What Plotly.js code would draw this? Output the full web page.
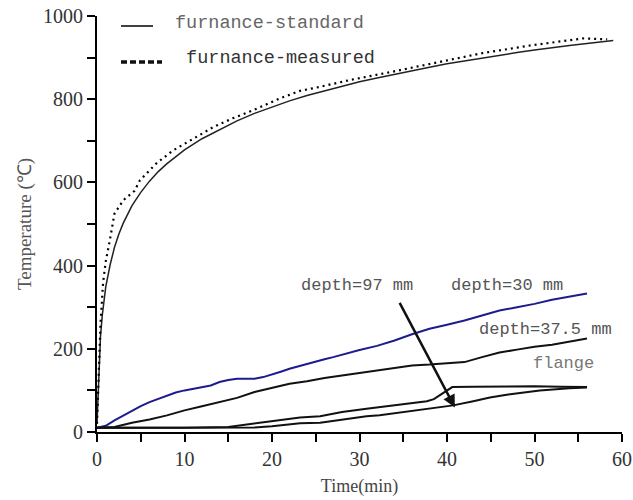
<!DOCTYPE html>
<html>
<head>
<meta charset="utf-8">
<script src="https://cdn.plot.ly/plotly-3.0.1.min.js"></script>
<style>html,body{margin:0;padding:0;background:#fff;}#chart{width:633px;height:500px;}</style>
</head>
<body>
<div id="chart"></div>
<script>
// Furnace standard curve
var stdT = [0,0.2,0.4,0.6,0.8,1,1.5,2,2.5,3,4,5,6,7,8,9,10,12,14,16,18,20,22,24,26,28,30,32,34,36,38,40,42,44,46,48,50,52,54,56,58,59];
var stdY = [20,150,230,280,318,349,402,444,476,502,544,576,603,626,645,662,678,705,727,748,766,781,796,809,820,831,842,851,860,869,877,885,892,899,906,912,918,924,929,934,939,941];
// Furnace measured curve
var measT = [0,0.2,0.4,0.7,1,1.5,2,3,4.3,4.9,6.8,8.7,11,13.3,15.5,17.8,20.9,23.2,25.1,28.9,33.5,39.2,44.1,49.8,55.5,58.3];
var measY = [20,130,260,360,410,465,525,557,580,605,646,677,706,733,754,773,802,820,828,846,865,890,911,930,946,944];
// depth = 30 mm (blue)
var d30T = [0,1,2,3,4,5,6,7,8,9,10,11,12,13,14,15,16,17,18,19,20,21,22,23,24,25,26,27,28,29,30,32,34,36,38,40,42,44,46,48,50,52,54,56];
var d30Y = [10,15,28,40,52,62,72,80,88,95,100,104,108,112,120,125,128,128,128,132,138,145,152,158,163,170,175,180,186,192,197,207,220,235,248,258,268,280,292,300,308,318,325,333];
// depth = 37.5 mm
var d375T = [0,2,4,6,8,10,12,14,16,18,20,22,24,26,28,30,32,34,36,38,40,42,44,46,48,50,52,54,56];
var d375Y = [10,12,22,30,40,52,62,72,82,96,106,116,122,130,136,142,149,155,160,162,165,168,180,191,198,205,210,218,225];
// flange
var flgT = [0,5,10,15,18,20,23.2,25.5,28,30.8,32.3,34,36,37.7,38.5,39.2,39.8,40.6,43,46,50,53,56];
var flgY = [10,10,10,12,20,26,35,38,48,56,60,65,70,74,79,88,97,108,109,110,110,109,108];
// depth = 97 mm
var d97T = [0,5,10,15,18,20,23.2,25.5,28,30.8,32.3,34,36.6,38.5,40.7,43,44.9,47,50.6,54,56];
var d97Y = [10,10,10,10,11,14,21,22,30,38,40,45,52,57,64,74,83,90,100,105,107];

var labels = ["furnance-standard", " furnance-measured"];
var annText = ["depth=97 mm", "depth=30 mm", "depth=37.5 mm", "flange"];

var black = {color:'#111', width:2};
var traces = [
  {x:stdT, y:stdY, mode:'lines', line:{color:'#222', width:1.5}},
  {x:measT, y:measY, mode:'lines', line:{color:'#000', width:2.2, dash:'2px,4px'}},
  {x:d30T, y:d30Y, mode:'lines', line:{color:'#1c1c8e', width:2}},
  {x:d375T, y:d375Y, mode:'lines', line:black},
  {x:flgT, y:flgY, mode:'lines', line:black},
  {x:d97T, y:d97Y, mode:'lines', line:black}
];

var serif = 'Liberation Serif, Times New Roman, serif';
var txtFont = {family:'Liberation Mono, DejaVu Sans Mono, monospace', size:17, color:'#555'};
var layout = {
  width:633, height:500,
  margin:{l:97, r:11, t:16, b:68},
  showlegend:false,
  paper_bgcolor:'#fff', plot_bgcolor:'#fff',
  xaxis:{range:[0,60], dtick:10, showgrid:false, zeroline:false, showline:true, linecolor:'#000', linewidth:2,
    ticks:'outside', ticklen:8, tickwidth:2, tickcolor:'#000',
    minor:{dtick:5, ticks:'outside', ticklen:8, tickwidth:2, tickcolor:'#000', showgrid:false},
    tickfont:{family:serif, size:20, color:'#333'},
    title:{text:'Time(min)', font:{family:serif, size:18, color:'#444'}, standoff:10}},
  yaxis:{range:[0,1000], dtick:200, showgrid:false, zeroline:false, showline:true, linecolor:'#000', linewidth:2,
    ticks:'outside', ticklen:8, tickwidth:2, tickcolor:'#000',
    minor:{dtick:100, ticks:'outside', ticklen:8, tickwidth:2, tickcolor:'#000', showgrid:false},
    tickfont:{family:serif, size:20, color:'#333'},
    title:{text:'Temperature (℃)', font:{family:serif, size:19, color:'#555'}, standoff:6}},
  shapes:[
    {type:'line', xref:'paper', yref:'paper', x0:(121-97)/525, x1:(153-97)/525, y0:(431.7-26)/415.7, y1:(431.7-26)/415.7, line:{color:'#111', width:1.6}},
    {type:'line', xref:'paper', yref:'paper', x0:(121-97)/525, x1:(162-97)/525, y0:(431.7-62)/415.7, y1:(431.7-62)/415.7, line:{color:'#111', width:3.5, dash:'6px,3px'}}
  ],
  annotations:[
    {xref:'paper', yref:'paper', x:(173-97)/525, y:(431.7-23)/415.7, xanchor:'left', yanchor:'middle', text:labels[0], showarrow:false, font:{family:txtFont.family, size:18.5, color:'#666'}},
    {xref:'paper', yref:'paper', x:(173-97)/525, y:(431.7-58)/415.7, xanchor:'left', yanchor:'middle', text:labels[1], showarrow:false, font:{family:txtFont.family, size:18.5, color:'#333'}},
    {x:29.7, y:353, text:annText[0], showarrow:false, font:txtFont},
    {x:46.9, y:353, text:annText[1], showarrow:false, font:txtFont},
    {x:51.2, y:247, text:annText[2], showarrow:false, font:txtFont},
    {x:53.3, y:165, text:annText[3], showarrow:false, font:{family:txtFont.family, size:17, color:'#777'}},
    {x:40.9, y:59, ax:34.5, ay:314, axref:'x', ayref:'y', text:'', showarrow:true, arrowhead:2, arrowsize:1, arrowwidth:2.5, arrowcolor:'#111'}
  ]
};
Plotly.newPlot('chart', traces, layout, {displayModeBar:false, staticPlot:true});
</script>
</body>
</html>
